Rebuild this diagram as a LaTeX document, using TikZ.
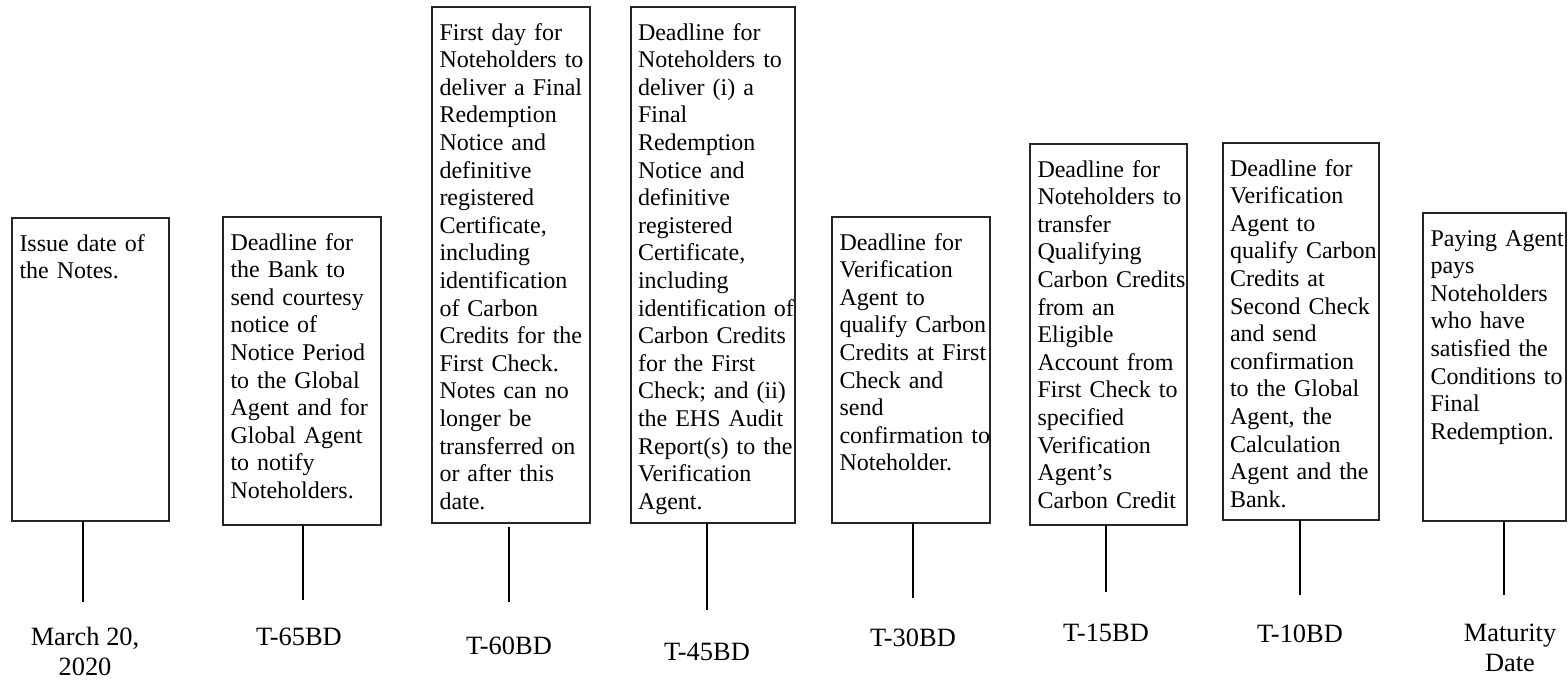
\documentclass[tikz,border=0pt]{standalone}
\usepackage{fontspec}
\setmainfont{Liberation Serif}
\usetikzlibrary{calc}
\begin{document}
\begin{tikzpicture}[x=0.5pt,y=-0.5pt]
\tikzset{
 box/.style={draw=black!85, line width=0.6pt, inner sep=0pt, outer sep=0pt, anchor=north west},
 txt/.style={anchor=base west, inner sep=0pt, outer sep=0pt, text width=100pt, align=left, font=\fontsize{12}{13.8}\selectfont},
 tick/.style={line width=0.8pt},
 lbl/.style={inner sep=0pt, outer sep=0pt, align=center, font=\fontsize{13.2}{15}\selectfont}
}
\useasboundingbox (0,0) rectangle (1568,680);
% boxes
\node[box, minimum width=78.5pt, minimum height=151.5pt] (b1) at (12,218) {};
\node[box, minimum width=79pt, minimum height=154pt] (b2) at (223,217) {};
\node[box, minimum width=79pt, minimum height=258pt] (b3) at (432,7) {};
\node[box, minimum width=82pt, minimum height=258pt] (b4) at (631,7) {};
\node[box, minimum width=79pt, minimum height=153pt] (b5) at (832,217) {};
\node[box, minimum width=78.5pt, minimum height=190.5pt] (b6) at (1030,144) {};
\node[box, minimum width=78pt, minimum height=188.5pt] (b7) at (1223,143) {};
\node[box, minimum width=71.5pt, minimum height=154pt] (b8) at (1423,213) {};
% texts
\node[txt] (t1) at (19.5,251) {Issue date of\\the Notes.};
\node[txt] (t2) at (230.5,250) {Deadline for\\the Bank to\\send courtesy\\notice of\\Notice Period\\to the Global\\Agent and for\\Global Agent\\to notify\\Noteholders.};
\node[txt] (t3) at (439.5,40) {First day for\\Noteholders to\\deliver a Final\\Redemption\\Notice and\\definitive\\registered\\Certificate,\\including\\identification\\of Carbon\\Credits for the\\First Check.\\Notes can no\\longer be\\transferred on\\or after this\\date.};
\node[txt] (t4) at (638,40) {Deadline for\\Noteholders to\\deliver (i) a\\Final\\Redemption\\Notice and\\definitive\\registered\\Certificate,\\including\\identification of\\Carbon Credits\\for the First\\Check; and (ii)\\the EHS Audit\\Report(s) to the\\Verification\\Agent.};
\node[txt] (t5) at (839.5,250) {Deadline for\\Verification\\Agent to\\qualify Carbon\\Credits at First\\Check and\\send\\confirmation to\\Noteholder.};
\node[txt] (t6) at (1037.5,177) {Deadline for\\Noteholders to\\transfer\\Qualifying\\Carbon Credits\\from an\\Eligible\\Account from\\First Check to\\specified\\Verification\\Agent’s\\Carbon Credit};
\node[txt] (t7) at (1230,176) {Deadline for\\Verification\\Agent to\\qualify Carbon\\Credits at\\Second Check\\and send\\confirmation\\to the Global\\Agent, the\\Calculation\\Agent and the\\Bank.};
\node[txt] (t8) at (1430.5,246) {Paying Agent\\pays\\Noteholders\\who have\\satisfied the\\Conditions to\\Final\\Redemption.};
% tick ends
\coordinate (e1) at (83,602);
\coordinate (e2) at (303,600);
\coordinate (e3) at (509,602);
\coordinate (e4) at (707,610);
\coordinate (e5) at (913,598);
\coordinate (e6) at (1106,592);
\coordinate (e7) at (1300,595);
\coordinate (e8) at (1504,595);
\draw[tick] (b1.south -| e1) -- (e1);
\draw[tick] (b2.south -| e2) -- (e2);
\draw[tick] ($(b3.south -| e3)+(0,4)$) -- (e3);
\draw[tick] (b4.south -| e4) -- (e4);
\draw[tick] (b5.south -| e5) -- (e5);
\draw[tick] (b6.south -| e6) -- (e6);
\draw[tick] (b7.south -| e7) -- (e7);
\draw[tick] (b8.south -| e8) -- (e8);
% labels
\node[lbl] (l1) at (85,651) {March 20,\\2020};
\node[lbl] (l2) at (299,637) {T-65BD};
\node[lbl] (l3) at (509,646) {T-60BD};
\node[lbl] (l4) at (707,652) {T-45BD};
\node[lbl] (l5) at (913,638) {T-30BD};
\node[lbl] (l6) at (1106,633) {T-15BD};
\node[lbl] (l7) at (1300,634) {T-10BD};
\node[lbl] (l8) at (1510,648) {Maturity\\Date};
\end{tikzpicture}
\end{document}
